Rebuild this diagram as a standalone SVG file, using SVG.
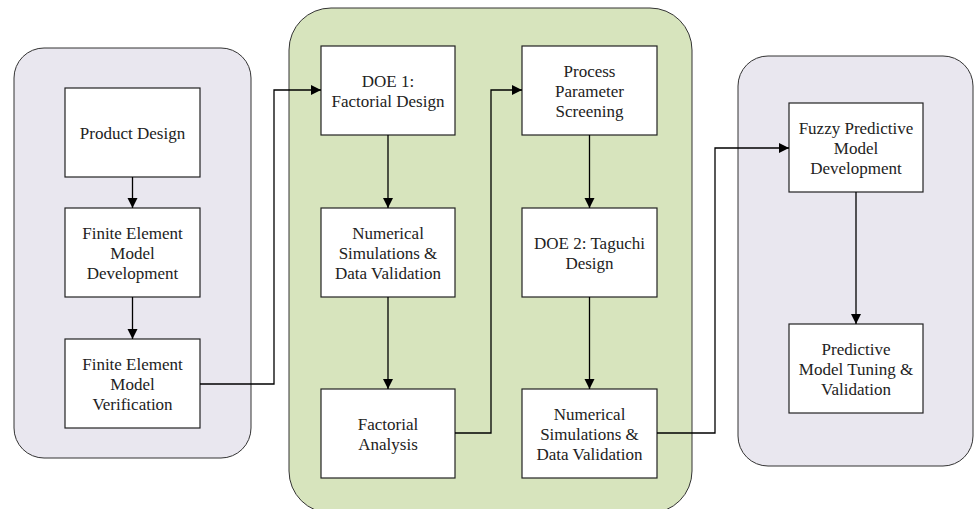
<svg xmlns="http://www.w3.org/2000/svg" width="975" height="509" viewBox="0 0 975 509">
<style>
.grp{stroke:#333;stroke-width:1}
.lav{fill:#E9E7EF}
.grn{fill:#D7E4BD}
.box{fill:#fff;stroke:#222;stroke-width:1.2}
.t{font-family:'Liberation Serif',Tinos,'Times New Roman','DejaVu Serif',serif;font-size:17px;fill:#222;text-anchor:middle}
.c{fill:none;stroke:#000;stroke-width:1.3}
</style>
<defs>
<marker id="ah" markerUnits="userSpaceOnUse" markerWidth="12" markerHeight="12" refX="10" refY="5" orient="auto">
<path d="M0,0 L10,5 L0,10 Z" fill="#000"/>
</marker>
</defs>
<rect class="grp lav" x="14" y="48" width="237" height="410" rx="30"/>
<rect class="grp grn" x="289" y="8" width="403" height="505" rx="42"/>
<rect class="grp lav" x="738" y="56" width="235" height="410" rx="30"/>

<g id="n1"><rect class="box" x="65" y="88" width="135" height="89"/><text class="t" x="132.5" y="138.5">Product Design</text></g>
<g id="n2"><rect class="box" x="65" y="208" width="135" height="89"/><text class="t" x="132.5" y="238.5">Finite Element</text><text class="t" x="132.5" y="258.5">Model</text><text class="t" x="132.5" y="278.5">Development</text></g>
<g id="n3"><rect class="box" x="65" y="339" width="135" height="89"/><text class="t" x="132.5" y="369.5">Finite Element</text><text class="t" x="132.5" y="389.5">Model</text><text class="t" x="132.5" y="409.5">Verification</text></g>

<g id="n4"><rect class="box" x="321" y="46" width="134" height="89"/><text class="t" x="388" y="86.5">DOE 1:</text><text class="t" x="388" y="106.5">Factorial Design</text></g>
<g id="n5"><rect class="box" x="321" y="208" width="134" height="89"/><text class="t" x="388" y="238.5">Numerical</text><text class="t" x="388" y="258.5">Simulations &amp;</text><text class="t" x="388" y="278.5">Data Validation</text></g>
<g id="n6"><rect class="box" x="321" y="389" width="134" height="89"/><text class="t" x="388" y="429.5">Factorial</text><text class="t" x="388" y="449.5">Analysis</text></g>

<g id="n7"><rect class="box" x="522" y="46" width="135" height="89"/><text class="t" x="589.5" y="76.5">Process</text><text class="t" x="589.5" y="96.5">Parameter</text><text class="t" x="589.5" y="116.5">Screening</text></g>
<g id="n8"><rect class="box" x="522" y="208" width="135" height="89"/><text class="t" x="589.5" y="248.5">DOE 2: Taguchi</text><text class="t" x="589.5" y="268.5">Design</text></g>
<g id="n9"><rect class="box" x="522" y="389" width="135" height="89"/><text class="t" x="589.5" y="419.5">Numerical</text><text class="t" x="589.5" y="439.5">Simulations &amp;</text><text class="t" x="589.5" y="459.5">Data Validation</text></g>

<g id="n10"><rect class="box" x="789" y="103" width="134" height="89"/><text class="t" x="856" y="133.5">Fuzzy Predictive</text><text class="t" x="856" y="153.5">Model</text><text class="t" x="856" y="173.5">Development</text></g>
<g id="n11"><rect class="box" x="789" y="324" width="134" height="89"/><text class="t" x="856" y="354.5">Predictive</text><text class="t" x="856" y="374.5">Model Tuning &amp;</text><text class="t" x="856" y="394.5">Validation</text></g>

<g id="connectors">
<path class="c" d="M132.5,177 V208" marker-end="url(#ah)"/>
<path class="c" d="M132.5,297 V339" marker-end="url(#ah)"/>
<path class="c" d="M200,384 H274 V90 H321" marker-end="url(#ah)"/>
<path class="c" d="M388,135 V208" marker-end="url(#ah)"/>
<path class="c" d="M388,297 V389" marker-end="url(#ah)"/>
<path class="c" d="M455,433 H491 V90 H522" marker-end="url(#ah)"/>
<path class="c" d="M589.5,135 V208" marker-end="url(#ah)"/>
<path class="c" d="M589.5,297 V389" marker-end="url(#ah)"/>
<path class="c" d="M657,433 H715 V148 H789" marker-end="url(#ah)"/>
<path class="c" d="M856,192 V324" marker-end="url(#ah)"/>
</g>
</svg>
